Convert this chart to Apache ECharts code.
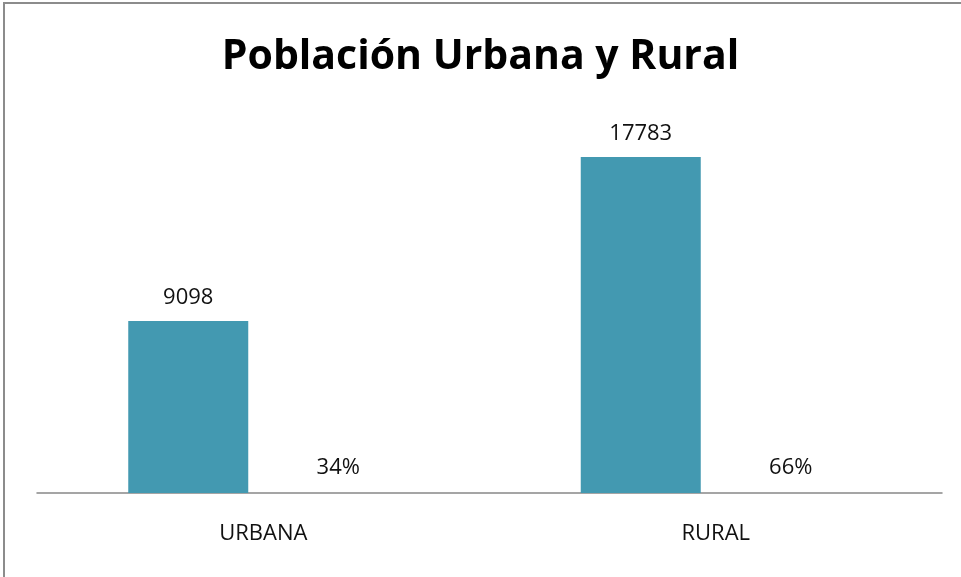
<!DOCTYPE html>
<html>
<head>
<meta charset="utf-8">
<style>
  html, body { margin: 0; padding: 0; background: #fff; }
  #chart { width: 961px; height: 577px; }
</style>
<script src="https://cdn.jsdelivr.net/npm/echarts@6/dist/echarts.min.js"></script>
</head>
<body>
<div id="chart"></div>
<script>
// categories and values
const categories = ['URBANA', 'RURAL'];
const population = [9098, 17783];
const share = [0.34, 0.66];

const barColor = '#4399b1';
const labelFont = '"Open Sans", "DejaVu Sans", sans-serif';

const chart = echarts.init(document.getElementById('chart'), null, { renderer: 'canvas' });

chart.setOption({
  animation: false,
  title: {
    text: 'Población Urbana y Rural',
    left: 'center',
    top: 32,
    textStyle: { fontFamily: labelFont, fontWeight: 'bold', fontSize: 41, color: '#000' },
  },
  graphic: [{
    type: 'rect',
    shape: { x: 4, y: 3, width: 1200, height: 1200 },
    style: { fill: 'none', stroke: '#8c8c8c', lineWidth: 2 },
    silent: true,
  }],
  grid: { left: 37, right: 19, top: 115, bottom: 84 },
  xAxis: {
    type: 'category',
    data: categories,
    axisLine: { lineStyle: { color: '#888', width: 1.5 } },
    axisTick: { show: false },
    axisLabel: { margin: 30, fontFamily: labelFont, fontSize: 22, color: '#111' },
  },
  yAxis: {
    type: 'value',
    min: 0,
    max: 20000,
    show: false,
    splitLine: { show: false },
  },
  series: [
    {
      name: 'Población',
      type: 'bar',
      data: population,
      barWidth: 120,
      barGap: '25%',
      itemStyle: { color: barColor },
      label: {
        show: true,
        position: 'top',
        distance: 12,
        fontFamily: labelFont,
        fontSize: 22,
        color: '#111',
      },
    },
    {
      name: 'Porcentaje',
      type: 'bar',
      data: share,
      barWidth: 120,
      itemStyle: { color: barColor },
      label: {
        show: true,
        position: 'top',
        distance: 14,
        fontFamily: labelFont,
        fontSize: 22,
        color: '#111',
        formatter: (p) => `${Math.round(p.value * 100)}%`,
      },
    },
  ],
});
</script>
</body>
</html>
